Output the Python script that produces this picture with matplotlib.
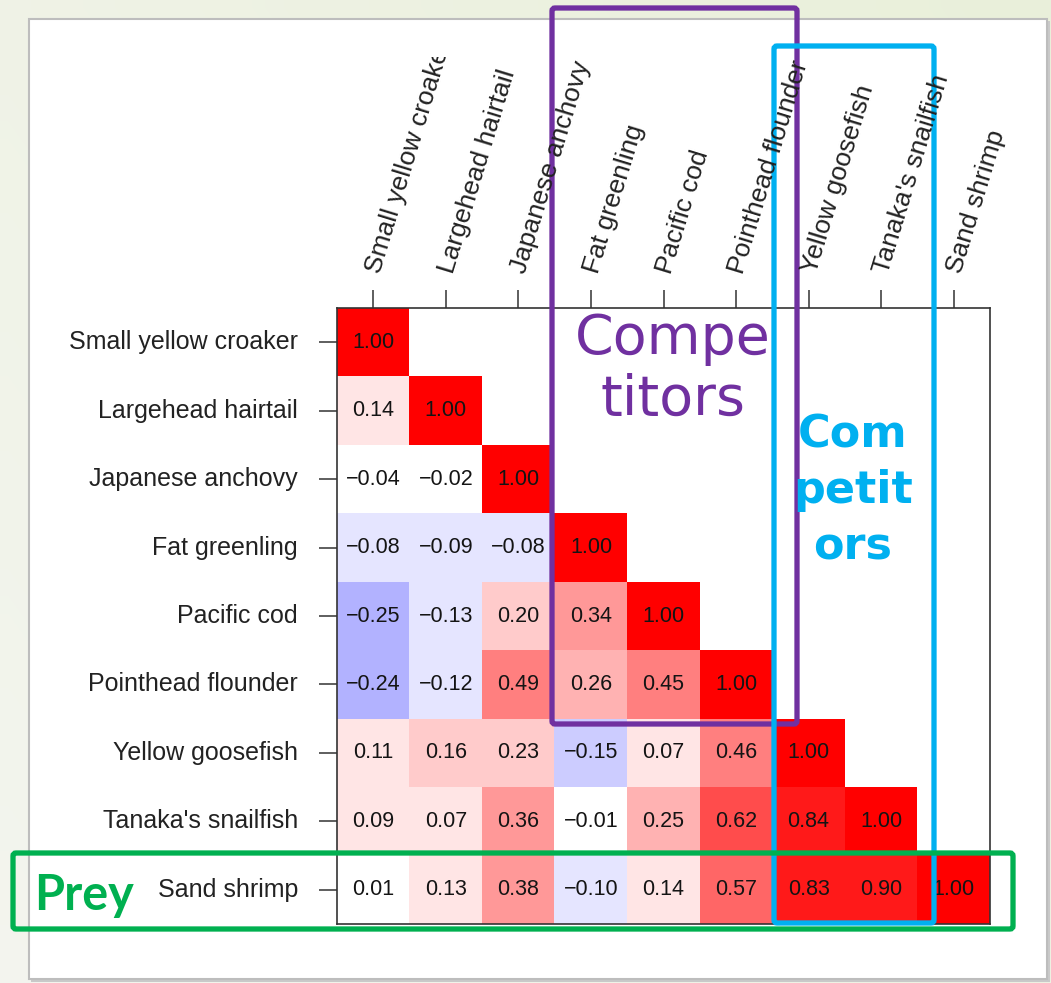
import numpy as np
import matplotlib
matplotlib.use("Agg")
import matplotlib.pyplot as plt
from matplotlib.colors import LinearSegmentedColormap
from matplotlib.patches import Rectangle, FancyBboxPatch
from matplotlib.transforms import Bbox, TransformedBbox, blended_transform_factory, ScaledTranslation

plt.rcParams['font.family'] = ['Liberation Sans', 'DejaVu Sans']

species = ["Small yellow croaker", "Largehead hairtail", "Japanese anchovy",
           "Fat greenling", "Pacific cod", "Pointhead flounder",
           "Yellow goosefish", "Tanaka's snailfish", "Sand shrimp"]

# lower triangle of the correlation matrix, row by row
corr_rows = [
    [1.00],
    [0.14, 1.00],
    [-0.04, -0.02, 1.00],
    [-0.08, -0.09, -0.08, 1.00],
    [-0.25, -0.13, 0.20, 0.34, 1.00],
    [-0.24, -0.12, 0.49, 0.26, 0.45, 1.00],
    [0.11, 0.16, 0.23, -0.15, 0.07, 0.46, 1.00],
    [0.09, 0.07, 0.36, -0.01, 0.25, 0.62, 0.84, 1.00],
    [0.01, 0.13, 0.38, -0.10, 0.14, 0.57, 0.83, 0.90, 1.00],
]

n = len(species)
mat = np.full((n, n), np.nan)
for i, row in enumerate(corr_rows):
    mat[i, :len(row)] = row

W, H = 1051, 983
fig = plt.figure(figsize=(W / 100, H / 100), dpi=100)

# slide background and white panel
bg = fig.add_axes([0, 0, 1, 1])
grad = np.linspace(0, 1, 64)
gx, gy = np.meshgrid(grad, grad)
t = np.clip(0.6 * gx + 0.4 * (1 - gy), 0, 1)[..., None]
c0 = np.array([0.955, 0.960, 0.935])
c1 = np.array([0.915, 0.940, 0.855])
bg.imshow(c0 * (1 - t) + c1 * t, extent=(0, W, H, 0), aspect='auto', interpolation='bilinear')
bg.set_xlim(0, W)
bg.set_ylim(H, 0)
bg.axis('off')
bg.add_patch(Rectangle((31, 21), 1019, 961, facecolor='#c9c9c9', edgecolor='none'))
bg.add_patch(Rectangle((29, 19), 1018, 960, facecolor='white', edgecolor='#bdbdbd', lw=1.5))

# heatmap
ax = fig.add_axes([337 / W, 1 - 924 / H, (990 - 337) / W, (924 - 308) / H])
cmap = LinearSegmentedColormap.from_list('bwr21', ['#0000FF', '#FFFFFF', '#FF0000'], N=21)
ax.imshow(np.ma.masked_invalid(mat), cmap=cmap, vmin=-1, vmax=1, aspect='auto',
          extent=(-0.5, n - 0.5, n - 0.5, -0.5), interpolation='nearest')
ax.set_xlim(-0.5, n - 0.5)
ax.set_ylim(n - 0.5, -0.5)

for i in range(n):
    for j in range(i + 1):
        txt = f"{mat[i, j]:.2f}".replace('-', '\u2212')
        ax.text(j, i, txt, ha='center', va='center', fontsize=15.5, color='#141414')

for sp in ax.spines.values():
    sp.set_color('#333333')
    sp.set_linewidth(1.2)

ax.xaxis.tick_top()
ax.set_xticks(range(n))
ax.set_yticks(range(n))
ax.set_xticklabels([])
ax.set_yticklabels([])
ax.tick_params(axis='both', length=13, width=1.1, color='#333333')

# species names, clipped at the edge of the cropped plot
clip = TransformedBbox(Bbox.from_extents(68 / W, 0, 1, 1 - 57 / H), fig.transFigure)
top_tr = blended_transform_factory(ax.transData, ax.transAxes) + \
    ScaledTranslation(12 / 100, 32 / 100, fig.dpi_scale_trans)
left_tr = blended_transform_factory(ax.transAxes, ax.transData) + \
    ScaledTranslation(-39 / 100, 0, fig.dpi_scale_trans)
for k, name in enumerate(species):
    t1 = fig.text(k, 1.0, name, transform=top_tr, rotation=73, rotation_mode='anchor',
                  ha='left', va='bottom', fontsize=19, color='#222222')
    t2 = fig.text(0.0, k, name, transform=left_tr, ha='right', va='center',
                  fontsize=18, color='#222222')
    for tx in (t1, t2):
        tx.set_clip_box(clip)
        tx.set_clip_on(True)

# group boxes and notes
ov = fig.add_axes([0, 0, 1, 1], facecolor='none')
ov.set_xlim(0, W)
ov.set_ylim(H, 0)
ov.axis('off')
purple = '#7030A0'
cyan = '#00B0F0'
green = '#00B050'
ov.add_patch(FancyBboxPatch((552, 8), 245, 716, boxstyle='round,pad=0,rounding_size=3',
                            fill=False, edgecolor=purple, lw=3.8))
ov.add_patch(FancyBboxPatch((774, 46), 160, 877, boxstyle='round,pad=0,rounding_size=3',
                            fill=False, edgecolor=cyan, lw=3.8))
ov.add_patch(FancyBboxPatch((13, 853), 1000, 76, boxstyle='round,pad=0,rounding_size=3',
                            fill=False, edgecolor=green, lw=3.8))

# multi-line notes: y is the baseline of the last line
ov.text(673, 415, "Compe\ntitors", ha='center', va='baseline', fontsize=40,
        color=purple, family=['DejaVu Sans'], linespacing=1.17,
        multialignment='center')
ov.text(853, 559, "Com\npetit\nors", ha='center', va='baseline', fontsize=32,
        color=cyan, family=['DejaVu Sans'], fontweight='bold', linespacing=1.38,
        multialignment='center')
ov.text(84, 910, "Prey", ha='center', va='baseline', fontsize=35,
        color=green, family=['Lato', 'DejaVu Sans'], fontweight='bold')

fig.savefig("out.png", dpi=100)
